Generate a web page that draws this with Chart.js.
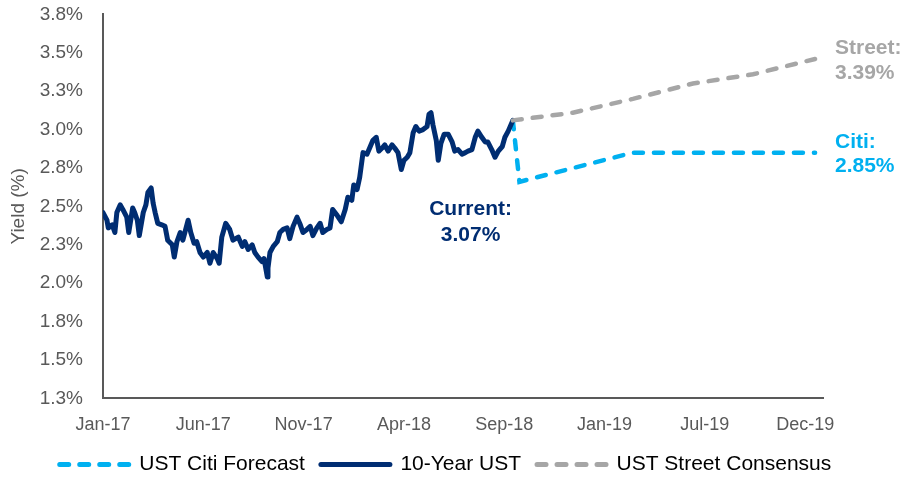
<!DOCTYPE html>
<html>
<head>
<meta charset="utf-8">
<script src="https://cdn.jsdelivr.net/npm/chart.js@4.4.1/dist/chart.umd.min.js"></script>
<style>
    html, body { margin: 0; padding: 0; background: #fff; }
    #wrap { width: 904px; height: 479px; }
</style>
</head>
<body>
<div id="wrap"><canvas id="myChart"></canvas></div>
<script>
// Colours
const navy = "#002D72";
const cyan = "#00B0F0";
const grey = "#A6A6A6";
const textGrey = "#595959";
const fontFamily = '"Liberation Sans", Arial, sans-serif';

// X axis (days counted from 1 Jan 2017)
const axisStart = "2017-01-01";
const axisEnd = "2019-12-28";
const xTickDays = [0, 152, 304, 456, 608, 760, 912, 1064];
const xTickLabels = ["Jan-17", "Jun-17", "Nov-17", "Apr-18", "Sep-18", "Jan-19", "Jul-19", "Dec-19"];

// Y axis
const yMin = 1.25;
const yMax = 3.75;
const yStep = 0.25;

// 10-Year UST (days since 1 Jan 2017)
const histDays = [
    0, 6, 8, 14, 18, 21, 26, 30, 36, 39,
    45, 48, 52, 55, 61, 65, 68, 73, 76, 79,
    83, 89, 94, 98, 105, 108, 112, 117, 121, 124,
    129, 133, 138, 142, 147, 152, 158, 162, 167, 173,
    176, 180, 186, 192, 197, 205, 211, 215, 220, 226,
    230, 235, 241, 244, 249, 250, 253, 258, 264, 268,
    273, 279, 283, 288, 294, 299, 303, 309, 314, 318,
    324, 329, 333, 339, 344, 348, 355, 361, 367, 371,
    377, 380, 385, 389, 394, 400, 405, 409, 414, 418,
    423, 427, 432, 438, 442, 447, 452, 456, 461, 465,
    470, 474, 479, 485, 491, 494, 497, 500, 505, 508,
    512, 517, 523, 529, 533, 538, 544, 549, 553, 559,
    564, 568, 574, 579, 583, 589, 594, 599, 605, 609,
    614, 621
];
const histYield = [
    2.46, 2.41, 2.36, 2.38, 2.33, 2.46, 2.51, 2.48, 2.43, 2.33,
    2.49, 2.46, 2.41, 2.31, 2.46, 2.51, 2.59, 2.62, 2.52, 2.46,
    2.39, 2.38, 2.37, 2.28, 2.25, 2.17, 2.27, 2.33, 2.28, 2.33,
    2.41, 2.33, 2.26, 2.27, 2.20, 2.17, 2.20, 2.13, 2.20, 2.16,
    2.13, 2.30, 2.39, 2.35, 2.28, 2.30, 2.24, 2.27, 2.22, 2.25,
    2.20, 2.17, 2.14, 2.16, 2.04, 2.10, 2.20, 2.24, 2.27, 2.33,
    2.35, 2.36, 2.29, 2.37, 2.43, 2.38, 2.33, 2.35, 2.37, 2.31,
    2.36, 2.39, 2.33, 2.35, 2.36, 2.48, 2.44, 2.40, 2.48, 2.56,
    2.54, 2.64, 2.61, 2.69, 2.85, 2.84, 2.89, 2.93, 2.95, 2.86,
    2.88, 2.90, 2.86, 2.90, 2.88, 2.85, 2.74, 2.80, 2.82, 2.85,
    2.98, 3.02, 2.99, 3.00, 3.02, 3.10, 3.11, 3.03, 2.93, 2.80,
    2.91, 2.97, 2.97, 2.92, 2.86, 2.87, 2.84, 2.85, 2.86, 2.87,
    2.95, 2.99, 2.95, 2.92, 2.92, 2.87, 2.82, 2.86, 2.89, 2.95,
    2.99, 3.06
];

// Forecasts
const citiDates = ["2018-09-14", "2018-09-24", "2019-03-15", "2019-12-16"];
const citiYield = [3.06, 2.66, 2.85, 2.85];
const streetDates = ["2018-09-14", "2018-12-14", "2019-03-15", "2019-06-14", "2019-09-13", "2019-12-16"];
const streetYield = [3.06, 3.11, 3.20, 3.30, 3.36, 3.46];

// Text notes
const currentNote = ["Current:", "3.07%"];
const streetNote = ["Street:", "3.39%"];
const citiNote = ["Citi:", "2.85%"];

// Converts a date string to days since the axis start
function dayOf(s) {
    return (Date.parse(s) - Date.parse(axisStart)) / 86400000;
}

const histPoints = histYield.map((v, i) => ({ x: histDays[i], y: v }));
const citiPoints = citiYield.map((v, i) => ({ x: dayOf(citiDates[i]), y: v }));
const streetPoints = streetYield.map((v, i) => ({ x: dayOf(streetDates[i]), y: v }));

// Draws the bold notes next to the lines
const notesPlugin = {
    id: "notes",
    afterDatasetsDraw(chart) {
        const { ctx, scales: { x, y } } = chart;
        ctx.save();
        ctx.font = `bold 21px ${fontFamily}`;
        ctx.textBaseline = "middle";

        ctx.textAlign = "left";
        const rx = x.right + 12;
        const sy = y.getPixelForValue(streetYield[streetYield.length - 1]);
        ctx.fillStyle = grey;
        ctx.fillText(streetNote[0], rx, sy - 11);
        ctx.fillText(streetNote[1], rx, sy + 14);

        const cy = y.getPixelForValue(citiYield[citiYield.length - 1]);
        ctx.fillStyle = cyan;
        ctx.fillText(citiNote[0], rx, cy - 10);
        ctx.fillText(citiNote[1], rx, cy + 14);

        ctx.textAlign = "center";
        ctx.fillStyle = navy;
        const cx = x.getPixelForValue(557);
        ctx.fillText(currentNote[0], cx, y.getPixelForValue(2.48));
        ctx.fillText(currentNote[1], cx, y.getPixelForValue(2.31));
        ctx.restore();
    }
};

const ctx = document.querySelector("#myChart");

new Chart(ctx, {
    type: "line",
    data: {
        datasets: [
            {
                label: "UST Citi Forecast",
                data: citiPoints,
                borderColor: cyan,
                borderWidth: 4.5,
                borderDash: [9, 11],
                borderCapStyle: "round",
                order: 2
            },
            {
                label: "10-Year UST",
                data: histPoints,
                borderColor: navy,
                borderWidth: 5,
                borderJoinStyle: "round",
                borderCapStyle: "round",
                order: 1
            },
            {
                label: "UST Street Consensus",
                data: streetPoints,
                borderColor: grey,
                borderWidth: 4.5,
                borderDash: [9, 11],
                borderCapStyle: "round",
                order: 0
            }
        ]
    },
    options: {
        responsive: true,
        maintainAspectRatio: false,
        animation: false,
        elements: { point: { radius: 0 }, line: { tension: 0 } },
        layout: { padding: { left: 3, right: 16, top: 0, bottom: -6 } },
        plugins: {
            tooltip: { enabled: false },
            legend: {
                position: "bottom",
                labels: {
                    usePointStyle: true,
                    pointStyleWidth: 69,
                    padding: 16,
                    color: textGrey,
                    font: { family: fontFamily, size: 21 },
                    generateLabels: (chart) => chart.data.datasets.map((ds, i) => ({
                        text: ds.label,
                        datasetIndex: i,
                        strokeStyle: ds.borderColor,
                        fillStyle: ds.borderColor,
                        lineWidth: 5,
                        lineDash: ds.borderDash || [],
                        lineCap: "round",
                        pointStyle: "line",
                        hidden: false
                    }))
                }
            }
        },
        scales: {
            x: {
                type: "linear",
                min: 0,
                max: dayOf(axisEnd),
                grid: { display: false, drawTicks: true, tickLength: 14 },
                border: { display: true, color: textGrey, width: 2 },
                afterBuildTicks: (axis) => { axis.ticks = xTickDays.map(v => ({ value: v })); },
                ticks: {
                    autoSkip: false,
                    maxRotation: 0,
                    padding: 2,
                    color: textGrey,
                    font: { family: fontFamily, size: 18 },
                    callback: (val, i) => xTickLabels[i]
                }
            },
            y: {
                min: yMin,
                max: yMax,
                grid: { display: false, drawTicks: true, tickLength: 17 },
                border: { display: true, color: textGrey, width: 2 },
                afterFit: (axis) => { axis.width = 100; },
                title: {
                    display: true,
                    text: "Yield (%)",
                    color: textGrey,
                    font: { family: fontFamily, size: 19 },
                    padding: { top: 4, bottom: 4 }
                },
                ticks: {
                    stepSize: yStep,
                    padding: 3,
                    color: textGrey,
                    font: { family: fontFamily, size: 19 },
                    callback: value => `${value.toFixed(1)}%`
                }
            },
            // keeps room on the right for the Street / Citi notes
            yRight: {
                position: "right",
                display: true,
                grid: { display: false, drawTicks: false },
                border: { display: false },
                ticks: { display: false },
                afterFit: (axis) => { axis.width = 65; }
            }
        }
    },
    plugins: [notesPlugin]
});
</script>
</body>
</html>
